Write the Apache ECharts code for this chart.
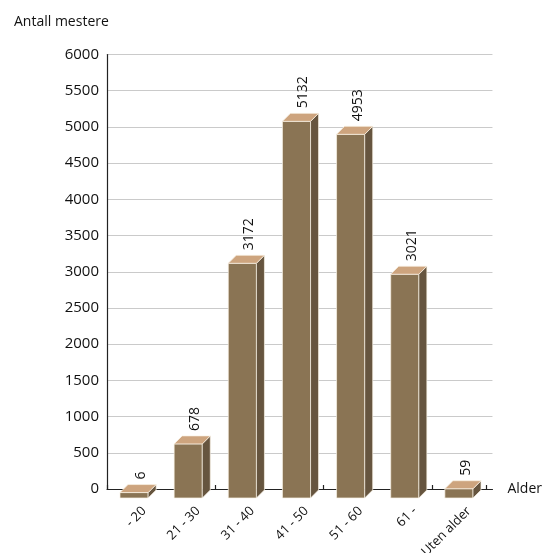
<!DOCTYPE html>
<html>
<head>
<meta charset="utf-8">
<script src="https://cdn.jsdelivr.net/npm/echarts@6/dist/echarts.min.js"></script>
<style>
html,body{margin:0;padding:0;background:#fff;}
#chart{width:545px;height:553px;}
</style>
</head>
<body>
<div id="chart"></div>
<script>
var categories = ['- 20', '21 - 30', '31 - 40', '41 - 50', '51 - 60', '61 -', 'Uten alder'];
var values = [6, 678, 3172, 5132, 4953, 3021, 59];
var yMin = 0, yMax = 6000, yStep = 500;
var yTitle = 'Antall mestere';
var xTitle = 'Alder';

var FONT = '"Open Sans", "Noto Sans", sans-serif';
var chart = echarts.init(document.getElementById('chart'), null, {renderer: 'canvas'});

var seriesData = values.map(function (v, i) { return [i, v]; });

function renderBar(params, api) {
  var idx = api.value(0), v = api.value(1);
  var c = api.coord([idx, v]);
  var z = api.coord([idx, 0]);
  var w = api.size([1, 0])[0] * 0.52;
  var L = c[0] - w / 2, R = c[0] + w / 2;
  var T = c[1] + 4, B = z[1] + 9;
  var dx = 8, dy = 8;
  var edge = 'rgba(250,242,230,0.9)';
  return {
    type: 'group',
    children: [
      {type: 'rect', shape: {x: L, y: T, width: w, height: B - T},
       style: {fill: '#8a7454', stroke: edge, lineWidth: 0.8}},
      {type: 'polygon', shape: {points: [[R, T], [R + dx, T - dy], [R + dx, B - dy], [R, B]]},
       style: {fill: '#66553f', stroke: edge, lineWidth: 0.8}},
      {type: 'polygon', shape: {points: [[L, T], [R, T], [R + dx, T - dy], [L + dx, T - dy]]},
       style: {fill: '#cda47e', stroke: edge, lineWidth: 0.8}},
      {type: 'text', x: c[0] + 7, y: c[1] - 9, rotation: Math.PI / 2,
       style: {text: String(values[idx]), fill: '#111', font: '14px ' + FONT,
               align: 'left', verticalAlign: 'middle'}},
      {type: 'text', x: c[0] + 10, y: z[1] + 20, rotation: Math.PI / 4,
       style: {text: categories[idx], fill: '#111', font: '13px ' + FONT,
               align: 'right', verticalAlign: 'middle'}}
    ]
  };
}

chart.setOption({
  animation: false,
  backgroundColor: '#fff',
  title: {
    text: yTitle, left: 9, top: 10,
    textStyle: {fontSize: 14, fontWeight: 'normal', color: '#111', fontFamily: FONT}
  },
  grid: [
    {left: 107, right: 50, top: 54.5, bottom: 64},
    {left: 107, right: 59, top: 54.5, bottom: 64}
  ],
  xAxis: [
    {type: 'value', gridIndex: 0, min: 0, max: 1,
     axisLine: {show: true, lineStyle: {color: '#222', width: 1.2}},
     axisTick: {show: false}, axisLabel: {show: false}, splitLine: {show: false},
     name: xTitle, nameLocation: 'end', nameGap: 15,
     nameTextStyle: {fontSize: 14, color: '#111', fontFamily: FONT, verticalAlign: 'middle'}},
    {type: 'category', gridIndex: 1, data: categories, boundaryGap: true,
     axisLine: {show: false},
     axisTick: {show: true, inside: true, length: 4, alignWithLabel: false, lineStyle: {color: '#222', width: 1.2}},
     axisLabel: {show: false}, splitLine: {show: false}}
  ],
  yAxis: [
    {type: 'value', gridIndex: 0, min: yMin, max: yMax, interval: yStep,
     axisLine: {show: true, lineStyle: {color: '#222', width: 1.2}},
     axisTick: {show: false},
     axisLabel: {show: true, margin: 8, fontSize: 15, color: '#111', fontFamily: FONT,
                 formatter: function (v) { return String(v); }},
     splitLine: {show: true, lineStyle: {color: '#cacaca', width: 1}}},
    {type: 'value', gridIndex: 1, min: yMin, max: yMax, interval: yStep,
     show: false}
  ],
  series: [{
    type: 'custom',
    xAxisIndex: 1, yAxisIndex: 1,
    clip: false,
    renderItem: renderBar,
    encode: {x: 0, y: 1},
    data: seriesData
  }]
});
</script>
</body>
</html>
